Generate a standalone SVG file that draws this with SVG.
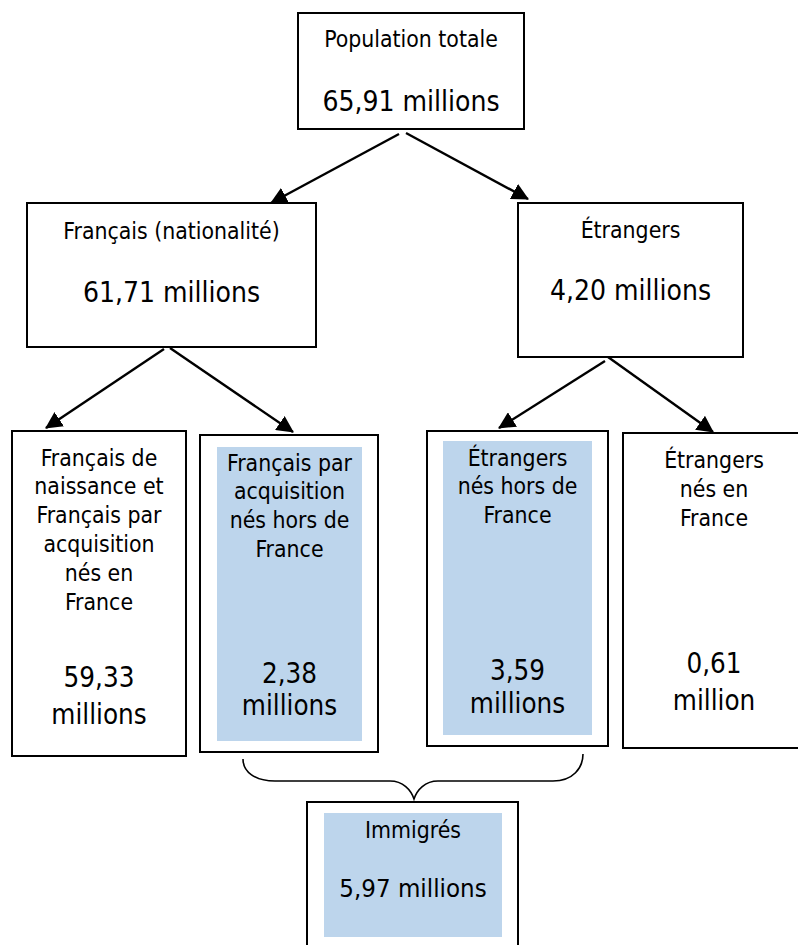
<svg xmlns="http://www.w3.org/2000/svg" width="798" height="945" viewBox="0 0 798 945">
<style>
  .box { fill: #ffffff; stroke: #000000; stroke-width: 2; }
  .fillb { fill: #BDD5EC; stroke: none; }
  .lbl { font-family: "DejaVu Sans Condensed", "DejaVu Sans", Verdana, sans-serif; font-size: 22.8px; fill: #000000; text-anchor: middle; }
  .num { font-family: "DejaVu Sans Condensed", "DejaVu Sans", Verdana, sans-serif; font-size: 27.5px; fill: #000000; text-anchor: middle; }
  .big { font-size: 28px; }
  .arr { stroke: #000000; stroke-width: 2.4; fill: none; marker-end: url(#ah); }
</style>
<defs>
  <marker id="ah" markerUnits="userSpaceOnUse" viewBox="0 0 16 16" refX="15" refY="8" markerWidth="17" markerHeight="17" orient="auto">
    <path d="M0,0 L16,8 L0,16 Z" fill="#000000"/>
  </marker>
</defs>
<rect width="798" height="945" fill="#ffffff"/>

<g id="population-totale">
  <rect class="box" x="298" y="13" width="226" height="116"/>
  <text class="lbl" x="411" y="47">Population totale</text>
  <text class="num big" x="411" y="111">65,91 millions</text>
</g>

<g id="francais">
  <rect class="box" x="27" y="203" width="289" height="144"/>
  <text class="lbl" x="171.5" y="239">Français (nationalité)</text>
  <text class="num big" x="171.5" y="302">61,71 millions</text>
</g>

<g id="etrangers">
  <rect class="box" x="518" y="203" width="225" height="154"/>
  <text class="lbl" x="630.5" y="238">Étrangers</text>
  <text class="num big" x="630.5" y="300">4,20 millions</text>
</g>

<g id="francais-nes-en-france">
  <rect class="box" x="12" y="431" width="174" height="325"/>
  <text class="lbl" x="99" y="466">Français de</text>
  <text class="lbl" x="99" y="494">naissance et</text>
  <text class="lbl" x="99" y="523">Français par</text>
  <text class="lbl" x="99" y="552">acquisition</text>
  <text class="lbl" x="99" y="581">nés en</text>
  <text class="lbl" x="99" y="610">France</text>
  <text class="num" x="99" y="687">59,33</text>
  <text class="num" x="99" y="724">millions</text>
</g>

<g id="francais-acquisition-hors-france">
  <rect class="box" x="200" y="435" width="178" height="317"/>
  <rect class="fillb" x="217" y="447" width="145" height="294"/>
  <text class="lbl" x="289.5" y="471">Français par</text>
  <text class="lbl" x="289.5" y="499">acquisition</text>
  <text class="lbl" x="289.5" y="528">nés hors de</text>
  <text class="lbl" x="289.5" y="557">France</text>
  <text class="num" x="289.5" y="683">2,38</text>
  <text class="num" x="289.5" y="715">millions</text>
</g>

<g id="etrangers-hors-france">
  <rect class="box" x="427" y="431" width="181" height="315"/>
  <rect class="fillb" x="443" y="441" width="149" height="294"/>
  <text class="lbl" x="517.5" y="466">Étrangers</text>
  <text class="lbl" x="517.5" y="494">nés hors de</text>
  <text class="lbl" x="517.5" y="523">France</text>
  <text class="num" x="517.5" y="680">3,59</text>
  <text class="num" x="517.5" y="713">millions</text>
</g>

<g id="etrangers-nes-en-france">
  <rect class="box" x="623" y="433" width="182" height="315"/>
  <text class="lbl" x="714" y="468">Étrangers</text>
  <text class="lbl" x="714" y="497">nés en</text>
  <text class="lbl" x="714" y="526">France</text>
  <text class="num" x="714" y="673">0,61</text>
  <text class="num" x="714" y="710">million</text>
</g>

<g id="immigres">
  <rect class="box" x="307" y="802" width="211" height="160"/>
  <rect class="fillb" x="324" y="813" width="178" height="124"/>
  <text class="lbl" x="413" y="838">Immigrés</text>
  <text class="num" x="413" y="897" style="font-size:25.6px">5,97 millions</text>
</g>

<g id="connectors">
  <line class="arr" x1="399" y1="134" x2="271" y2="203"/>
  <line class="arr" x1="406" y1="133" x2="528" y2="199"/>
  <line class="arr" x1="164" y1="349" x2="46" y2="428"/>
  <line class="arr" x1="170" y1="348" x2="293" y2="432"/>
  <line class="arr" x1="605" y1="361" x2="499" y2="428"/>
  <line class="arr" x1="608" y1="357" x2="713" y2="432"/>
  <path d="M243,759 C243,772 255,781 275,781 L390,781 C403,781 411,790 414,799 C417,790 425,781 438,781 L553,781 C573,781 583,768 583,754" fill="none" stroke="#000000" stroke-width="1.6"/>
</g>
</svg>
